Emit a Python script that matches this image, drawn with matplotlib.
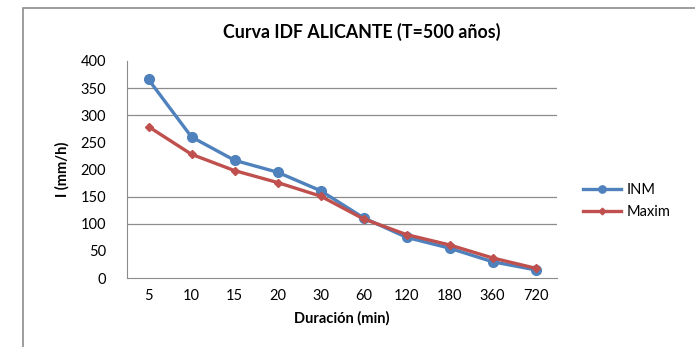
import matplotlib
matplotlib.use('Agg')
import matplotlib.pyplot as plt
from matplotlib.patches import Rectangle

# datos
duraciones = ['5', '10', '15', '20', '30', '60', '120', '180', '360', '720']
inm = [366, 260, 217, 195, 161, 111, 75, 55, 30, 15]
maxim = [279, 228, 198, 176, 151, 109, 80, 61, 37, 18]
yticks = [0, 50, 100, 150, 200, 250, 300, 350, 400]
grid_visibles = [100, 150, 300, 350]

plt.rcParams['font.family'] = ['Lato', 'DejaVu Sans']

fig = plt.figure(figsize=(6.95, 3.47), dpi=100)
fig.patches.append(Rectangle((23/695, -0.05), 1.0, 1 - 8/347 + 0.05, transform=fig.transFigure,
                             fill=False, edgecolor='#8c8c8c', linewidth=1.2))

ax = fig.add_axes([127/695, 1 - 278/347, 430/695, 217/347])
x = list(range(len(duraciones)))

for g in grid_visibles:
    ax.axhline(g, color='#8c8c8c', linewidth=0.9, zorder=0)

ax.plot(x, inm, color='#4F81BD', linewidth=2.4, marker='o', markersize=7, label='INM', zorder=3)
ax.plot(x, maxim, color='#C0504D', linewidth=2.4, marker='D', markersize=4.5, label='Maxim', zorder=4)

ax.set_xlim(-0.5, len(duraciones) - 0.5)
ax.set_ylim(0, 400)
ax.set_xticks(x)
ax.set_xticklabels(duraciones)
ax.set_yticks(yticks)
ax.tick_params(length=0, labelsize=10.5, pad=8)
ax.tick_params(axis='y', pad=15)

for s in ['top', 'right']:
    ax.spines[s].set_visible(False)
for s in ['left', 'bottom']:
    ax.spines[s].set_color('#8c8c8c')

ax.set_xlabel('Duración (min)', fontsize=10.5, fontweight='bold', labelpad=6)
ax.set_ylabel('I (mm/h)', fontsize=10.5, fontweight='bold', labelpad=8)
fig.text(362/695, 1 - 32/347, 'Curva IDF ALICANTE (T=500 años)', ha='center', va='center',
         fontsize=12.8, fontweight='bold')

ax.legend(loc='center left', bbox_to_anchor=(1.03, 0.355), frameon=False, fontsize=10.5,
          handlelength=2.6, handletextpad=0.4, labelspacing=0.55, markerscale=0.75)

fig.savefig('out.png', dpi=100)
